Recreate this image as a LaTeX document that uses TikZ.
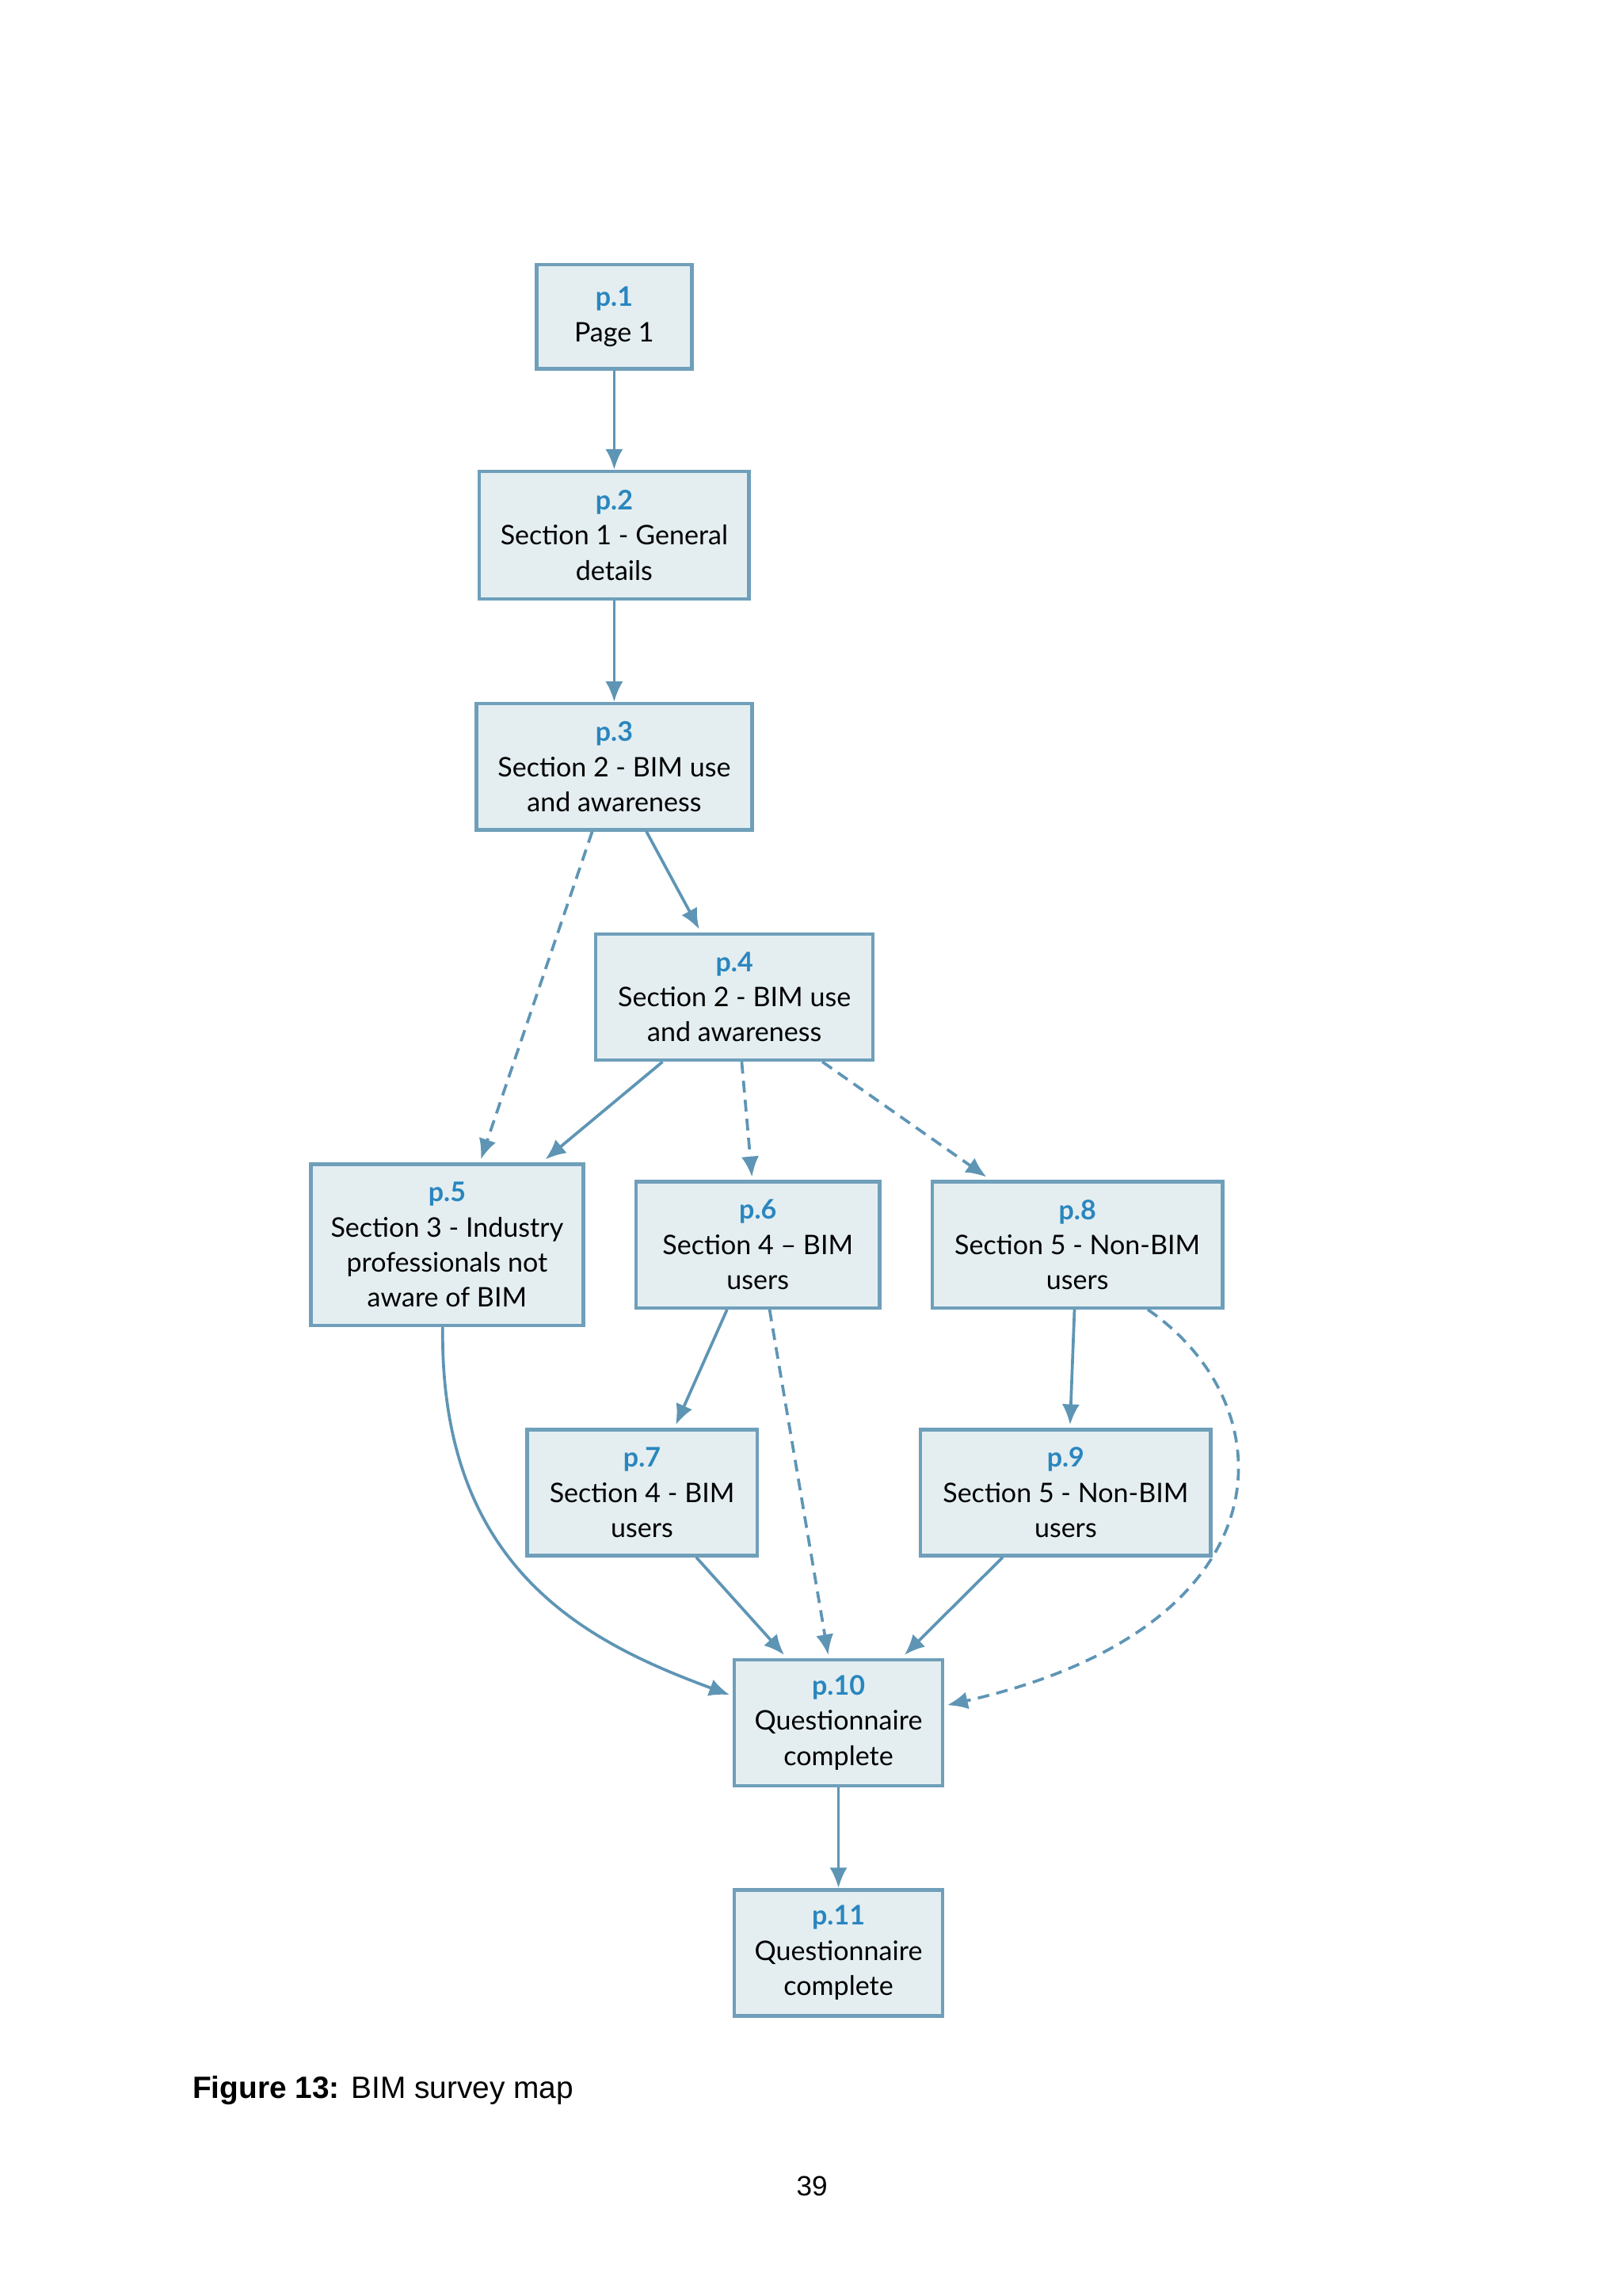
\documentclass[tikz,border=0pt]{standalone}
\usepackage{fontspec}
\setmainfont{Lato}
\newfontfamily\capfont{Liberation Sans}
\usetikzlibrary{arrows.meta,calc}
\definecolor{bfill}{HTML}{E4EEF1}
\definecolor{bdraw}{HTML}{6F9FBA}
\definecolor{plab}{HTML}{2A86BE}
\definecolor{arr}{HTML}{5E95B5}
\begin{document}
\begin{tikzpicture}[x=0.5pt,y=-0.5pt,
 box/.style={draw=bdraw,line width=1.2pt,fill=bfill,align=center,font=\fontsize{9.2}{12}\selectfont,inner sep=0pt},
 e/.style={draw=arr,line width=1pt,-{Latex[length=7pt,width=6pt]}},
 d/.style={e,dash pattern=on 4pt off 2.5pt}]
\useasboundingbox (0,0) rectangle (1107,1566);
\newcommand{\bx}[7]{\node[box,minimum width=#4*0.5pt,minimum height=#5*0.5pt] (#1) at (#2,#3) {{\color{plab}\bfseries #6}\\#7};}
\bx{p1}{419}{216}{106}{71}{p.1}{Page 1}
\bx{p2}{419}{365}{184}{87}{p.2}{Section 1 - General\\details}
\bx{p3}{419}{523}{188}{86}{p.3}{Section 2 - BIM use\\and awareness}
\bx{p4}{501}{680}{189}{86}{p.4}{Section 2 - BIM use\\and awareness}
\bx{p5}{305}{849}{186}{110}{p.5}{Section 3 - Industry\\professionals not\\aware of BIM}
\bx{p6}{517}{849}{166}{86}{p.6}{Section 4 -- BIM\\users}
\bx{p8}{735}{849}{198}{86}{p.8}{Section 5 - Non-BIM\\users}
\bx{p7}{438}{1018}{157}{86}{p.7}{Section 4 - BIM\\users}
\bx{p9}{727}{1018}{198}{86}{p.9}{Section 5 - Non-BIM\\users}
\bx{p10}{572}{1175}{142}{86}{p.10}{Questionnaire\\complete}
\bx{p11}{572}{1332}{142}{86}{p.11}{Questionnaire\\complete}
\draw[e] (p1) -- (p2);
\draw[e] (p2) -- (p3);
\draw[e] ($(p3.south)+(22,0)$) -- ($(p4.north)+(-24,-2)$);
\draw[d] ($(p3.south)+(-15,0)$) -- ($(p5.north)+(23,-2)$);
\draw[e] ($(p4.south)+(-49,0)$) -- ($(p5.north)+(67,-2)$);
\draw[d] ($(p4.south)+(5,0)$) -- ($(p6.north)+(-4,-2)$);
\draw[d] ($(p4.south)+(60,0)$) -- ($(p8.north)+(-62,-2)$);
\draw[e] ($(p6.south)+(-21,0)$) -- ($(p7.north)+(23,-2)$);
\draw[d] ($(p6.south)+(8,0)$) -- ($(p10.north)+(-7,-2)$);
\draw[e] ($(p8.south)+(-2,0)$) -- ($(p9.north)+(3,-2)$);
\draw[d] ($(p8.south)+(48,0)$) .. controls (880,960) and (880,1110) .. ($(p10.east)+(2,-12)$);
\draw[e] ($(p5.south)+(-3,0)$) .. controls (300,1070) and (400,1120) .. ($(p10.west)+(-2,-19)$);
\draw[e] ($(p7.south)+(37,0)$) -- ($(p10.north)+(-37,-2)$);
\draw[e] ($(p9.south)+(-43,0)$) -- ($(p10.north)+(45,-2)$);
\draw[e] (p10) -- (p11);
\node[anchor=west,font=\capfont\fontsize{10.5}{12}\selectfont,inner sep=0pt] (cap) at (131,1426) {\textbf{Figure 13:} BIM survey map};
\node[font=\capfont\fontsize{9.5}{12}\selectfont,inner sep=0pt] (pg) at (554,1491) {39};
\end{tikzpicture}
\end{document}
